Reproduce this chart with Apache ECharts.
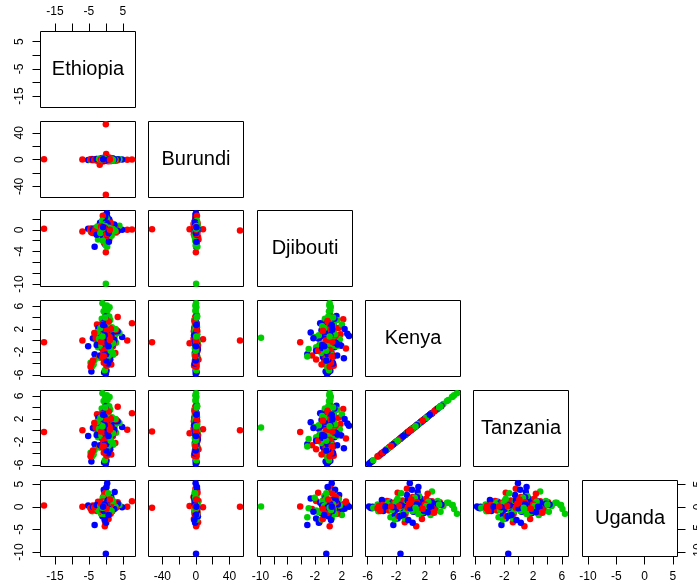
<!DOCTYPE html>
<html>
<head>
<meta charset="utf-8">
<script src="https://cdn.jsdelivr.net/npm/echarts@6/dist/echarts.min.js"></script>
<style>
  html, body { margin: 0; padding: 0; background: #fff; }
  #pairs { width: 697px; height: 587px; }
</style>
</head>
<body>
<div id="pairs"></div>
<script>
// scatterplot matrix (lower panels only), 3 groups coloured red / green / blue
const varNames = ["Ethiopia", "Burundi", "Djibouti", "Kenya", "Tanzania", "Uganda"];
const groupColors = ["#FF0000", "#00CD00", "#0000FF"];
const groupSize = 60; // each array: 60 red obs, then 60 green, then 60 blue

const ethiopia = [
  -18.2, 7.7, 6.3, -6.9, 0.0, 0.0, 0.0, -1.8, 0.1, 0.5, 3.5, -4.2, -3.8, -4.5, 2.1, 0.2, -0.5, 0.3, -0.2, 0.0, -0.3, 1.2, -1.5, 2.8, -2.6, 1.0, -0.8, 0.6, -0.4, 1.6, -2.0, 0.4, 3.0, -3.0, 0.0, 1.9, -0.6, 0.8, -0.9, 2.4, -3.4, 0.1, -0.1, 1.4, -2.3,
  0.3, -0.7, 1.1, -1.2, 0.8, -0.2, 1.5, -1.0, 0.5, -0.4, 0.9, -1.4, 0.2, -0.6, 1.2,
  0.0, -1.0, -0.65, 1.1, 0.3, -0.2, -3.3, -4.0, -4.5, -3.6, -0.3, 0.1, -2.8, -3.2, 2.5, 3.0, 4.0, 1.8, -1.6, -2.3, 0.0, 0.4, -0.5, 0.2, -0.1, 0.6, -0.4, 1.3, -1.2, 2.2, -1.8, 0.9, -0.7, 1.5, -2.5, 0.3, -0.9, 1.0, -1.4, 2.8, 0.5, -0.2, 0.7, -1.1, 1.7,
  -1.3, 0.6, 1.9, -0.8, 0.1, 1.2, -2.0, 0.4, -0.5, 2.1, -1.6, 0.9, -0.2, 1.4, -1.0,
  0.0, 0.4, -3.3, 4.8, -5.2, -4.25, 0.0, -0.5, 0.2, 0.3, 0.1, -0.3, 0.5, 2.6, 0.2, 0.4, -0.2, 0.6, -0.1, 0.3, 0.0, -0.4, 0.5, -0.6, 0.1, 1.2, -1.4, 2.0, -2.2, 3.5, -3.8, 1.0, -0.8, 0.7, -1.0, 1.6, -0.2, 0.9, -1.7, 0.2, -0.3, 2.5, -0.7, 1.3, -2.7,
  0.1, -0.2, 0.4, 0.0, -0.4, 0.3, 0.6, -0.1, 0.2, -0.6, 0.5, 0.1, -0.3, 0.8, -0.8
];
const burundi = [
  0.5, 0.3, -0.4, 0.2, 52.6, -52.3, 0.0, -7.5, 8.5, 1.2, -0.8, 0.4, -1.1, 0.6, 1.5, -0.7, 0.9, -2.1, 2.6, -0.5, 0.3, -1.8, 1.7, 0.2, -0.9, 3.1, -2.8, 0.8, -1.4, 0.5, 1.0, -0.2, -1.3, 0.7, 2.0, -0.6, 0.1, -2.4, 1.3, 0.0, -0.4, -1.0, 0.6, 1.9, -1.6,
  -0.5, 0.7, -1.2, 0.4, 1.0, -0.8, 0.2, 1.4, -0.3, 0.6, -1.5, 0.1, 0.9, -0.7, 0.3,
  0.3, 0.2, -0.3, 0.5, -0.6, 0.4, -0.2, 0.8, -0.5, 0.1, 0.6, -0.4, 1.0, -0.7, 0.3, -0.9, 0.5, 1.4, -1.5, 0.9, -0.2, 1.8, -1.1, 0.7, -0.3, 0.2, 1.1, -2.0, 0.0, -0.6, 0.5, -1.2, 2.2, 0.9, -1.8, 0.4, -0.8, 1.6, -0.1, 0.0, -0.5, 0.1, -0.9, 1.2, -1.7,
  0.6, -0.9, 0.2, 1.3, -0.4, -1.1, 0.8, 0.0, 1.5, -0.6, 0.3, -1.4, 0.9, -0.2, 0.5,
  0.2, -0.3, 0.4, 0.3, -0.6, 0.5, -0.2, 0.8, -0.4, 0.1, -0.5, 0.6, 0.0, -0.8, 1.1, -1.0, 0.5, 0.0, -0.7, 0.9, 0.3, -0.2, -1.3, 1.5, -0.9, 0.7, -0.4, 1.6, -1.2, 0.4, 0.2, -0.3, 0.9, -1.6, 2.4, -2.2, 0.0, 0.6, -0.5, 1.3, -1.8, 0.5, 0.2, -0.1, 1.0,
  -0.4, 0.7, 0.1, -1.1, 0.5, 0.9, -0.6, 0.2, -0.2, 1.2, -0.8, 0.4, -1.4, 0.0, 0.6
];
const djibouti = [
  0.2, 0.05, 0.0, -0.3, -0.1, 0.1, -4.15, 0.1, 0.1, 0.3, 0.5, -0.5, -0.6, 0.2, -0.4, 2.2, -2.4, 0.8, -1.3, 0.4, 0.2, 1.5, -0.7, 0.5, 0.0, -1.8, 1.1, -0.2, 0.6, -1.0, 0.7, 1.8, -0.5, 0.3, -1.5, 0.2, 0.4, -0.8, 2.6, 0.5, -0.3, -0.1, 0.0, 1.3, -0.4,
  0.4, -0.2, 0.9, 0.1, -0.6, 0.7, 0.3, -0.4, 1.1, 0.2, -0.1, 0.6, -0.8, 0.5, 0.0,
  -9.93, 0.2, 0.1, 0.3, 0.15, 0.25, -0.4, 0.3, -0.2, 0.0, 0.1, -0.2, 0.4, -0.3, 0.6, 0.2, 0.75, -0.3, 1.0, -1.8, -2.9, -3.1, 0.8, -0.6, 1.5, 0.5, -1.0, 1.3, -0.5, 0.4, 0.2, -1.4, 0.9, -0.8, 0.6, 2.0, -2.0, 0.0, 1.2, -0.2, 0.3, 0.35, -0.3, 1.7, -1.1,
  0.5, -0.4, 0.2, 0.8, -0.9, 0.3, 0.6, -0.2, 1.0, 0.1, -0.6, 0.4, 0.7, -0.3, 0.2,
  -0.3, 0.5, -3.1, 0.0, 0.2, -0.4, -0.2, 0.0, 0.3, 3.05, 2.8, -2.6, 2.3, 0.4, 1.2, -0.5, 0.8, -1.0, 1.6, -1.8, 0.6, -0.8, 0.2, 1.0, -1.4, 0.9, -0.6, 0.3, 0.5, -0.2, 0.1, 1.9, -1.2, 0.7, 0.0, -0.4, 2.4, -2.2, 1.3, -0.1, 0.4, 1.0, -0.3, 0.0, -0.9,
  0.7, 0.2, -0.5, 1.4, 0.4, -0.9, 0.1, 0.9, -0.3, 0.6, 1.1, -0.1, 0.3, -0.6, 0.5
];
const kenya = [
  -0.3, 3.0, 0.0, 0.0, 0.0, -0.3, -0.3, -0.5, 0.2, 4.3, 4.1, -4.0, -3.5, -4.6, -1.0, 3.7, -2.6, -4.4, -0.8, -0.5, 0.8, 2.2, 1.6, -2.2, 2.8, -3.3, 0.3, -1.7, 2.4, -4.2, -2.9, 1.1, 1.9, 0.5, -1.8, 0.4, -3.9, 1.6, -1.4, -0.3, 1.3, 3.4, -2.0, -0.7, 0.0,
  1.4, -2.3, 0.6, 2.9, -1.1, -0.4, 2.0, -3.0, 0.9, -1.6, 3.3, -0.2, 1.7, -2.7, 0.1,
  0.5, 6.5, 5.1, 5.8, 6.1, 4.6, -3.4, -4.5, -3.9, -4.2, -5.2, -4.6, 0.0, 0.3, 0.5, -0.4, 1.3, 2.3, 2.0, -1.2, -1.5, -2.8, 3.0, 1.2, 0.4, -0.8, -2.2, 3.6, 3.8, -2.5, -3.0, 0.9, -0.3, -1.9, 1.5, 2.8, 0.6, 4.2, -1.0, 2.0, 5.3, 5.9, -1.3, 0.2, -0.6,
  -0.9, 1.7, -2.1, 0.8, 2.5, -1.4, 0.3, -3.2, 1.1, -0.5, 2.2, -2.6, 4.0, -1.8, 0.7,
  -1.4, -0.1, -2.4, 0.6, -1.0, -5.4, -5.8, -5.6, -5.3, 0.8, 1.2, 1.4, -3.1, 1.0, 4.3, 3.5, 2.6, 1.8, -0.5, -1.8, -3.8, -2.9, -2.2, 0.2, 0.3, -1.2, 0.7, -0.6, 2.2, 1.6, 0.4, -0.9, 3.0, -4.0, -1.5, 0.9, 2.0, 0.4, -2.6, 1.1, -0.3, 0.1, 2.9, -3.3, -0.8,
  0.5, -2.0, 1.5, -0.7, 2.4, -1.3, 0.0, 3.8, -3.5, 1.9, -0.4, -2.4, 0.9, -1.0, 2.7
];
const tanzania = [
  -0.3, 3.0, 0.1, 0.0, 0.0, -0.2, -0.3, -0.5, 0.2, 4.2, 4.1, -4.0, -3.5, -4.5, -1.0, 3.7, -2.6, -4.4, -0.8, -0.4, 0.8, 2.2, 1.6, -2.2, 2.8, -3.3, 0.3, -1.7, 2.4, -4.2, -2.9, 1.1, 1.9, 0.5, -1.8, 0.4, -3.9, 1.6, -1.4, -0.3, 1.3, 3.4, -2.0, -0.7, 0.0,
  1.4, -2.3, 0.6, 2.9, -1.1, -0.4, 2.0, -3.0, 0.9, -1.6, 3.3, -0.2, 1.7, -2.7, 0.1,
  0.5, 6.45, 5.1, 5.8, 6.1, 4.6, -3.4, -4.5, -3.9, -4.2, -5.2, -4.6, 0.0, 0.3, 0.5, -0.4, 1.3, 2.3, 2.0, -1.2, -1.5, -2.8, 3.0, 1.2, 0.4, -0.8, -2.2, 3.6, 3.8, -2.5, -3.0, 0.9, -0.3, -1.9, 1.5, 2.8, 0.6, 4.2, -1.0, 2.0, 5.3, 5.9, -1.3, 0.2, -0.6,
  -0.9, 1.7, -2.1, 0.8, 2.5, -1.4, 0.3, -3.2, 1.1, -0.5, 2.2, -2.6, 4.0, -1.8, 0.7,
  -1.45, -0.1, -2.4, 0.6, -1.0, -5.4, -5.8, -5.6, -5.3, 0.8, 1.2, 1.4, -3.1, 1.0, 4.3, 3.5, 2.6, 1.8, -0.5, -1.8, -3.8, -2.9, -2.2, 0.2, 0.3, -1.2, 0.7, -0.6, 2.2, 1.6, 0.4, -0.9, 3.0, -4.0, -1.5, 0.9, 2.0, 0.4, -2.6, 1.1, -0.3, 0.1, 2.9, -3.3, -0.8,
  0.5, -2.0, 1.5, -0.7, 2.4, -1.3, 0.0, 3.8, -3.5, 1.9, -0.4, -2.4, 0.9, -1.0, 2.7
];
const uganda = [
  0.3, 1.25, 0.0, 0.0, 0.0, -0.2, 0.1, 0.2, -0.1, 0.4, 1.0, -0.8, 0.3, -0.3, 0.2, 0.6, -0.5, 0.2, -3.4, 4.0, -4.3, 1.8, -1.2, 0.5, -0.9, 1.3, 2.2, -2.0, 2.9, -0.9, 0.9, -0.6, -0.2, 0.1, 3.1, -1.0, 0.4, -2.7, 1.2, 0.7, -0.1, -0.4, 0.8, -1.5, 1.1,
  -0.6, 0.9, 0.3, -1.1, 1.4, -0.2, 0.5, -0.8, 1.0, 0.2, -1.3, 0.7, -0.4, 0.1, 1.6,
  0.05, -1.5, 0.9, 0.4, -0.5, 0.2, -0.6, -1.0, -0.3, 0.2, -0.2, 0.5, -0.2, 0.1, 0.3, -0.1, 0.4, 1.0, 0.6, -0.8, -0.3, -2.3, 3.4, 2.4, 1.7, -2.5, -2.8, -0.7, 1.3, -0.2, 1.0, -1.2, 0.8, 1.4, -0.5, -1.8, 2.0, -1.1, -1.5, 0.0, 0.9, 0.4, 3.0, 0.3, -0.9,
  0.4, -1.2, 0.8, -0.4, 1.1, 0.0, -0.9, 0.6, -1.6, 1.3, 0.2, -0.7, 0.5, 1.8, -0.2,
  -10.35, 5.2, -4.0, -0.1, 0.3, -0.3, 0.1, -0.2, 0.0, 0.0, 0.4, 1.85, 0.3, 3.3, 0.5, -0.8, 1.2, -1.4, 2.6, -2.6, -0.9, 1.1, -1.7, 3.8, -3.5, 0.6, -0.5, -0.3, 0.2, 0.7, 0.0, -1.0, 0.9, 1.5, -2.1, 2.1, -0.4, -1.1, 0.8, 4.4, -2.9, -0.5, -0.1, 0.0, 0.4,
  0.2, -0.6, 1.0, 0.5, -1.2, 0.3, -0.3, 0.7, 0.1, -0.9, 1.4, -0.1, 0.6, -1.8, 0.0
];

// tick positions and the labels R managed to fit
const tickValues = [
  [-15, -10, -5, 0, 5],
  [-40, -20, 0, 20, 40],
  [-10, -8, -6, -4, -2, 0, 2],
  [-6, -4, -2, 0, 2, 4, 6],
  [-6, -4, -2, 0, 2, 4, 6],
  [-10, -5, 0, 5]
];
const xTickLabels = [[-15, -5, 5], [-40, 0, 40], [-10, -6, -2, 2], [-6, -2, 2, 6], [-6, -2, 2, 6], [-10, -5, 0, 5]];
const yTickLabels = [[-15, -5, 5], [-40, 0, 40], [-10, -4, 0], [-6, -2, 2, 6], [-6, -2, 2, 6], [-10, -5, 0, 5]];

const vars = [ethiopia, burundi, djibouti, kenya, tanzania, uganda];

// R style axis range: data range plus 4% on each side
function axisRange(v) {
  const lo = Math.min(...v), hi = Math.max(...v);
  const pad = (hi - lo) * 0.04;
  return [lo - pad, hi + pad];
}
const ranges = vars.map(axisRange);

const n = vars.length;
const fontFamily = '"Liberation Sans", Arial, sans-serif';
const panelW = 95, panelH = 76;
function panelLeft(j) { return Math.round(40 + 108.3 * j) + 0.5; }
function panelTop(i) { return Math.round(31 + 89.7 * i) + 0.5; }

const grids = [], xAxes = [], yAxes = [], seriesList = [], texts = [];

for (let i = 0; i < n; i++) {
  for (let j = 0; j <= i; j++) {
    const g = grids.length;
    grids.push({
      left: panelLeft(j), top: panelTop(i), width: panelW, height: panelH,
      outerBoundsMode: "none", containLabel: false,
      show: true, borderColor: "#000", borderWidth: 1, backgroundColor: "transparent"
    });

    const showX = i === n - 1 || (i === 0 && j === 0);
    const rightSide = i === n - 1 && j === n - 1;
    const showY = j === 0 || rightSide;

    xAxes.push({
      gridIndex: g, type: "value",
      min: ranges[j][0], max: ranges[j][1],
      position: i === 0 ? "top" : "bottom",
      axisLine: { show: false, onZero: false },
      splitLine: { show: false },
      axisTick: { show: showX, inside: false, length: 8, customValues: tickValues[j], lineStyle: { color: "#000", width: 1 } },
      axisLabel: { show: showX, customValues: xTickLabels[j], color: "#000", fontSize: 12, fontFamily, margin: 14 }
    });
    yAxes.push({
      gridIndex: g, type: "value",
      min: ranges[i][0], max: ranges[i][1],
      position: rightSide ? "right" : "left",
      axisLine: { show: false, onZero: false },
      splitLine: { show: false },
      axisTick: { show: showY, inside: false, length: 8, customValues: tickValues[i], lineStyle: { color: "#000", width: 1 } },
      axisLabel: { show: showY, customValues: yTickLabels[i], rotate: 90, color: "#000", fontSize: 12, fontFamily, margin: 15 }
    });

    if (i === j) {
      texts.push({
        type: "text",
        x: panelLeft(j) + panelW / 2, y: panelTop(i) + panelH / 2,
        style: { text: varNames[i], fill: "#000", font: "20px " + fontFamily, align: "center", verticalAlign: "middle" }
      });
    } else {
      // interleave the groups so colours overlap as in the original
      const data = [];
      for (let k = 0; k < groupSize; k++) {
        for (let grp = 0; grp < groupColors.length; grp++) {
          const idx = grp * groupSize + k;
          data.push({ value: [vars[j][idx], vars[i][idx]], itemStyle: { color: groupColors[grp], opacity: 1 } });
        }
      }
      seriesList.push({
        type: "scatter", xAxisIndex: g, yAxisIndex: g,
        symbol: "circle", symbolSize: 6.5, clip: false, silent: true,
        itemStyle: { opacity: 1 },
        data
      });
    }
  }
}

const chart = echarts.init(document.getElementById("pairs"));
chart.setOption({
  animation: false,
  backgroundColor: "#fff",
  grid: grids,
  xAxis: xAxes,
  yAxis: yAxes,
  series: seriesList,
  graphic: texts
});
</script>
</body>
</html>
